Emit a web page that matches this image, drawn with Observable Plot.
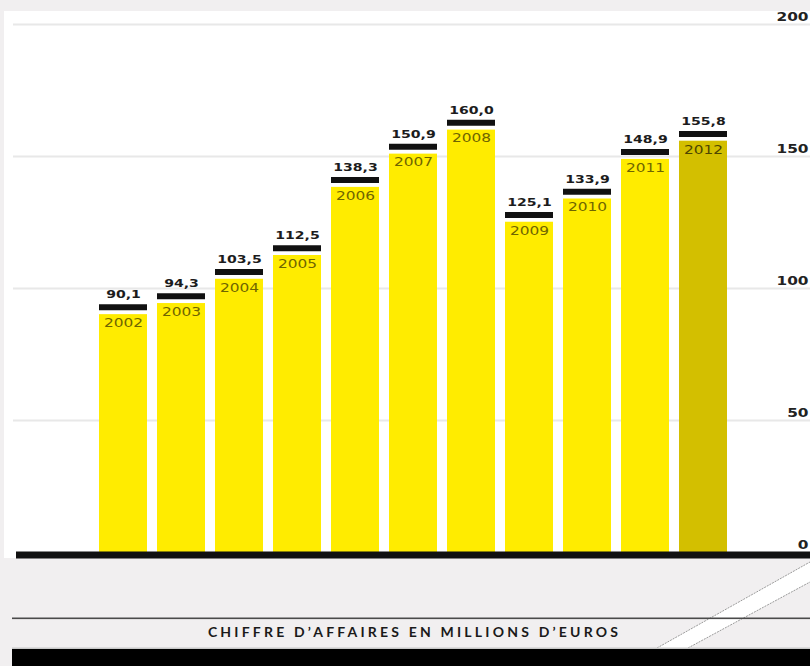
<!DOCTYPE html>
<html>
<head>
<meta charset="utf-8">
<script src="https://cdn.jsdelivr.net/npm/d3@7"></script>
<script src="https://cdn.jsdelivr.net/npm/@observablehq/plot@0.6"></script>
<style>
  html, body { margin: 0; padding: 0; }
  body { width: 810px; height: 666px; background: #f1eff0; position: relative; overflow: hidden; }
  #chart { position: absolute; left: 4px; top: 11px; }
  #deco { position: absolute; left: 0; top: 0; }
  #caption {
    position: absolute; left: 0; width: 829px; top: 623px; text-align: center;
    font-family: Lato, "DejaVu Sans", sans-serif; font-weight: 700; font-size: 14px;
    letter-spacing: 3.2px; color: #1a1a1a; line-height: 17px;
  }
</style>
</head>
<body>
<svg id="deco" width="810" height="666">
  <polygon points="657,648 810,562 810,582 688,648" fill="#ffffff"/>
  <line x1="657" y1="648" x2="810" y2="562" stroke="#9a9a9a" stroke-width="1" stroke-dasharray="2,1"/>
  <line x1="688" y1="648" x2="810" y2="582" stroke="#9a9a9a" stroke-width="1" stroke-dasharray="2,1"/>
  <rect x="12" y="617.5" width="798" height="1.6" fill="#4a4a4a"/>
  <rect x="12" y="647.5" width="798" height="1.5" fill="#c8c8c8"/>
  <rect x="12" y="649" width="798" height="17" fill="#000000"/>
</svg>
<div id="chart"></div>
<div id="caption">CHIFFRE D’AFFAIRES EN MILLIONS D’EUROS</div>
<script>
const years = ["2002","2003","2004","2005","2006","2007","2008","2009","2010","2011","2012"];
const values = [90.1, 94.3, 103.5, 112.5, 138.3, 150.9, 160.0, 125.1, 133.9, 148.9, 155.8];
const valueLabels = ["90,1","94,3","103,5","112,5","138,3","150,9","160,0","125,1","133,9","148,9","155,8"];
const yTicks = [0, 50, 100, 150, 200];
const highlightYear = "2012";

const data = years.map((year, i) => ({
  year,
  value: values[i],
  label: valueLabels[i],
  kind: year === highlightYear ? "highlight" : "normal"
}));

const font = "'DejaVu Sans', sans-serif";

const chart = Plot.plot({
  width: 806,
  height: 547,
  marginTop: 13,
  marginBottom: 6,
  marginLeft: 9,
  marginRight: 0,
  style: { background: "#ffffff", fontFamily: font, overflow: "visible" },
  x: { type: "band", domain: years, range: [83.8, 734.1], padding: 0.18, axis: null },
  y: { domain: [0, 200], axis: null },
  color: { domain: ["normal", "highlight"], range: ["#ffec00", "#d3bf00"] },
  marks: [
    Plot.ruleY(yTicks.filter(d => d > 0), { stroke: "#e8e8e8", strokeWidth: 2 }),
    Plot.barY(data, { x: "year", y: "value", fill: "kind" }),
    Plot.tickY(data, { x: "year", y: "value", stroke: "#111111", strokeWidth: 6, dy: -7.3 }),
    Plot.text(data, { x: "year", y: "value", text: "label", dy: -20, fontFamily: font, fontSize: 11, fontWeight: "bold", fill: "#1c1c1c" }),
    Plot.text(data, { filter: d => d.kind === "normal", x: "year", y: "value", text: "year", dy: 8.5, fontFamily: font, fontSize: 12, fill: "#6f6500" }),
    Plot.text(data, { filter: d => d.kind === "highlight", x: "year", y: "value", text: "year", dy: 8.5, fontFamily: font, fontSize: 12, fill: "#4e4600" }),
    Plot.ruleY([0], { stroke: "#111111", strokeWidth: 7, dy: 2.5, insetLeft: 3 }),
    Plot.text(yTicks, { y: d => d, text: d => String(d), frameAnchor: "right", textAnchor: "end", dx: -2, dy: -7, fontFamily: font, fontSize: 12, fontWeight: "bold", fill: "#222222" })
  ]
});

// horizontally extend glyphs to mimic the wide typeface
d3.select(chart).selectAll("text").each(function () {
  const t = this.getAttribute("transform") || "";
  this.setAttribute("transform", t + " scale(1.28,1)");
});

document.getElementById("chart").appendChild(chart);
</script>
</body>
</html>
